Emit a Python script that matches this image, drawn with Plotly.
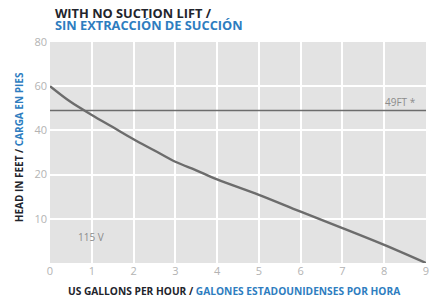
import numpy as np
import plotly.graph_objects as go

# Data
flow_gph = [0, 0.5, 1, 1.5, 2, 2.5, 3, 3.5, 4, 5, 6, 7, 8, 9]
head_ft = [60, 52.8, 47.0, 41.5, 36.0, 30.9, 25.8, 21.9, 18.9, 15.4, 11.6, 7.9, 4.1, 0]
ref_head = 49
ref_label = "49FT *"
voltage_label = "115 V"
x_ticks = [0, 1, 2, 3, 4, 5, 6, 7, 8, 9]
y_tick_values = [0, 10, 20, 40, 60, 80]
y_tick_labels = ["", "10", "20", "40", "60", "80"]

# The chart's head axis is spaced evenly between its tick values
def to_axis(v):
    return np.interp(v, y_tick_values, list(range(len(y_tick_values))))

DARK = "#22242c"
BLUE = "#2e7dbf"
LINE = "#6c6c6c"
TICK = "#b3b3b3"
FONT = "Open Sans"

fig = go.Figure()
fig.add_trace(go.Scatter(
    x=[x_ticks[0], x_ticks[-1]], y=to_axis([ref_head, ref_head]),
    mode="lines", line=dict(color=LINE, width=1.6), hoverinfo="skip", showlegend=False))
fig.add_trace(go.Scatter(
    x=flow_gph, y=to_axis(head_ft), customdata=head_ft,
    mode="lines", line=dict(color=LINE, width=2.4, shape="spline", smoothing=1.0),
    hovertemplate="%{x} GPH: %{customdata} ft<extra></extra>", showlegend=False))

fig.update_layout(
    width=429, height=298,
    margin=dict(l=50, r=0, t=42, b=35),
    paper_bgcolor="white", plot_bgcolor="#e3e3e3",
    font=dict(family=FONT, size=10, color=TICK),
    xaxis=dict(range=[0, 9], tickvals=x_ticks, showgrid=True, gridcolor="white", gridwidth=2,
               zeroline=False, showline=False, ticks="", tickfont=dict(size=11, color=TICK),
               ticklabeloverflow="allow"),
    yaxis=dict(range=[0, 5], tickvals=list(range(len(y_tick_values))), ticktext=y_tick_labels,
               showgrid=True, gridcolor="white", gridwidth=2, zeroline=False, showline=False,
               ticks="", tickfont=dict(size=11, color=TICK), ticklabelstandoff=2),
)

def py(p):
    # pixel y (from top) -> paper y
    return (263 - p) / 221

def px(p):
    return (p - 50) / 379

ann = [
    dict(text="<b>WITH NO SUCTION LIFT /</b>", x=px(54), y=py(12.5), color=DARK, size=12.8),
    dict(text="<b>SIN EXTRACCIÓN DE SUCCIÓN</b>", x=px(54), y=py(24.5), color=BLUE, size=12.8),
]
for a in ann:
    fig.add_annotation(text=a["text"], xref="paper", yref="paper", x=a["x"], y=a["y"],
                       xanchor="left", yanchor="middle", showarrow=False, borderpad=0,
                       font=dict(family=FONT, size=a["size"], color=a["color"]))

fig.add_annotation(
    text=f"<b>HEAD IN FEET / <span style='color:{BLUE}'>CARGA EN PIES</span></b>",
    xref="paper", yref="paper", x=px(19), y=py(147), xanchor="center", yanchor="middle",
    textangle=-90, showarrow=False, font=dict(family=FONT, size=10, color=DARK))
fig.add_annotation(
    text=f"<b>US GALLONS PER HOUR / <span style='color:{BLUE}'>GALONES ESTADOUNIDENSES POR HORA</span></b>",
    xref="paper", yref="paper", x=px(236), y=py(291), xanchor="center", yanchor="middle",
    showarrow=False, font=dict(family=FONT, size=10.2, color=DARK))
fig.add_annotation(
    text=ref_label, xref="paper", yref="paper", x=px(421), y=py(102), xanchor="right",
    yanchor="middle", showarrow=False, font=dict(family=FONT, size=10, color="#8c8c8c"))
fig.add_annotation(
    text=voltage_label, xref="paper", yref="paper", x=px(91), y=py(237), xanchor="center",
    yanchor="middle", showarrow=False, font=dict(family=FONT, size=10, color="#8c8c8c"))

fig.write_html("out.html", config={"displayModeBar": False},
               post_script="document.body.style.margin='0';")
